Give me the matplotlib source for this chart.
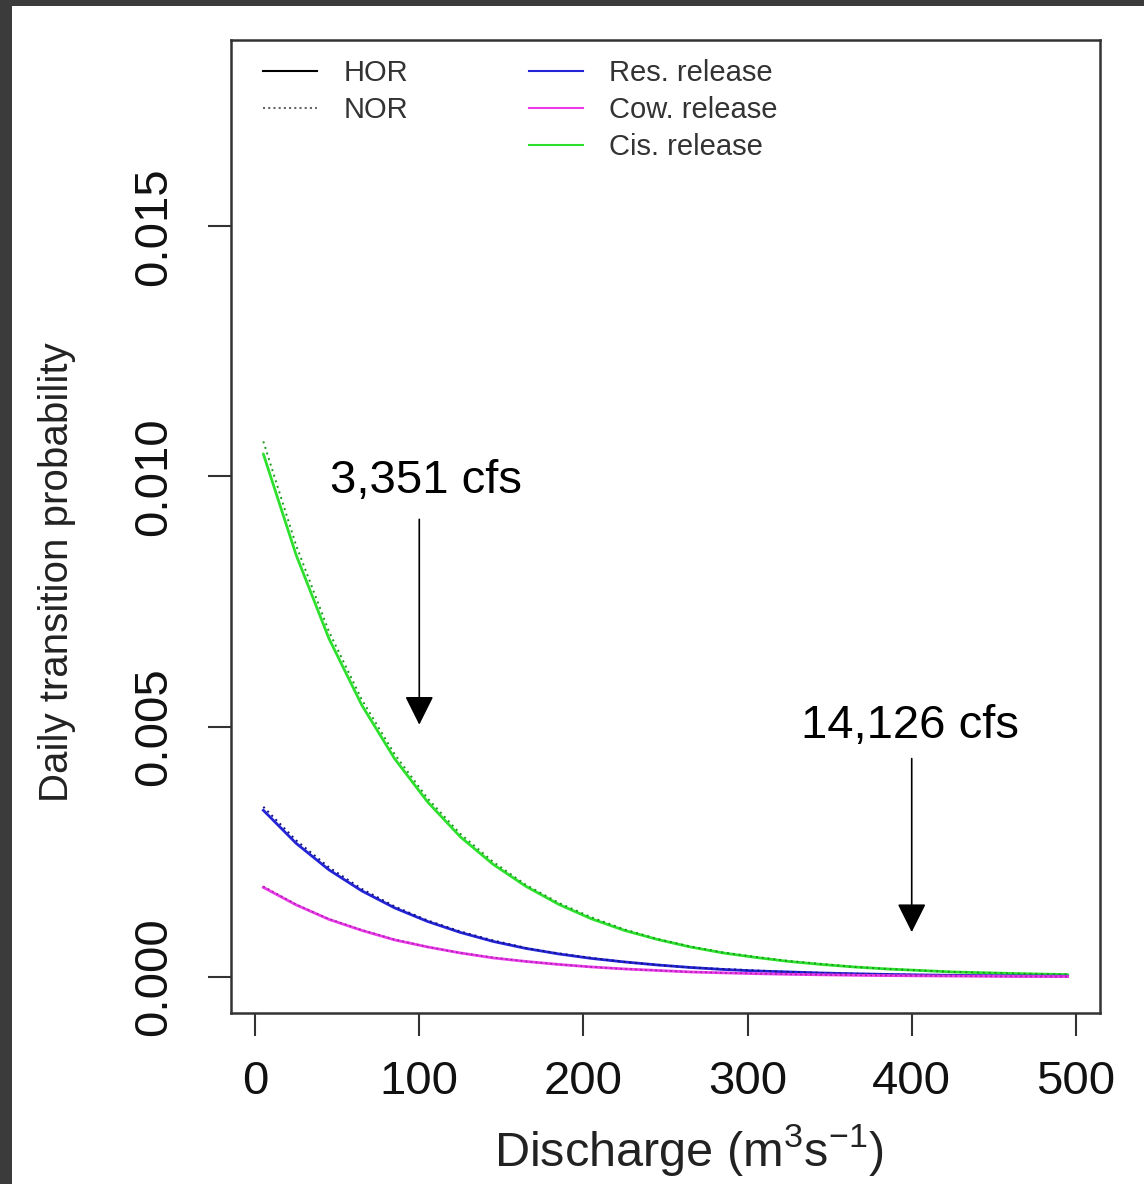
import matplotlib
matplotlib.use("Agg")
import matplotlib.pyplot as plt
from matplotlib.patches import Rectangle
from matplotlib.lines import Line2D

plt.rcParams['font.family'] = ['Liberation Sans', 'DejaVu Sans']
plt.rcParams['mathtext.fontset'] = 'custom'
plt.rcParams['mathtext.rm'] = 'Liberation Sans'
plt.rcParams['mathtext.it'] = 'Liberation Sans'

# Discharge (m3/s)
discharge = [5, 25, 45, 65, 85, 105, 125, 145, 165, 185, 205, 225, 245,
             265, 285, 305, 325, 345, 365, 385, 405, 425, 445, 465, 485, 495]

# Daily transition probability (x 1e-3)
cis_hor = [10.45, 8.43, 6.76, 5.43, 4.36, 3.50, 2.80, 2.25, 1.81, 1.45, 1.16, 0.93, 0.75,
           0.60, 0.48, 0.39, 0.31, 0.25, 0.20, 0.16, 0.13, 0.10, 0.083, 0.067, 0.054, 0.048]
cis_nor = [10.70, 8.62, 6.90, 5.54, 4.45, 3.57, 2.86, 2.30, 1.84, 1.48, 1.19, 0.95, 0.76,
           0.61, 0.49, 0.40, 0.32, 0.26, 0.20, 0.16, 0.13, 0.10, 0.085, 0.068, 0.055, 0.049]
res_hor = [3.33, 2.67, 2.14, 1.72, 1.38, 1.11, 0.89, 0.71, 0.57, 0.46, 0.37, 0.30, 0.24,
           0.19, 0.15, 0.12, 0.10, 0.079, 0.064, 0.051, 0.041, 0.033, 0.026, 0.021, 0.017, 0.015]
res_nor = [3.40, 2.73, 2.19, 1.76, 1.41, 1.13, 0.91, 0.73, 0.58, 0.47, 0.38, 0.30, 0.24,
           0.19, 0.16, 0.13, 0.10, 0.081, 0.065, 0.052, 0.042, 0.034, 0.027, 0.022, 0.017, 0.016]
cow_hor = [1.79, 1.44, 1.15, 0.93, 0.74, 0.60, 0.48, 0.38, 0.31, 0.25, 0.20, 0.16, 0.13,
           0.10, 0.082, 0.066, 0.053, 0.043, 0.034, 0.027, 0.022, 0.018, 0.014, 0.011, 0.009, 0.008]
cow_nor = [1.81, 1.45, 1.16, 0.94, 0.75, 0.60, 0.48, 0.39, 0.31, 0.25, 0.20, 0.16, 0.13,
           0.10, 0.083, 0.067, 0.054, 0.043, 0.035, 0.028, 0.022, 0.018, 0.014, 0.012, 0.009, 0.008]

x_ticks = [0, 100, 200, 300, 400, 500]
y_ticks = [0.000, 0.005, 0.010, 0.015]
y_ticklabels = ["0.000", "0.005", "0.010", "0.015"]

W, H = 1144, 1184
fig = plt.figure(figsize=(W / 100, H / 100), dpi=100)
fig.patch.set_facecolor('#3b3b3b')
fig.patches.append(Rectangle((12 / W, 0), 1 - 12 / W, (H - 6) / H,
                             transform=fig.transFigure, facecolor='white',
                             edgecolor='none', zorder=-10))

ax = fig.add_axes([231 / W, 1 - 1013 / H, (1100 - 231) / W, (1013 - 40) / H])
ax.set_zorder(1)
ax.set_facecolor('white')

def s(v):
    return [t * 1e-3 for t in v]

c_cis, c_res, c_cow = '#2ee02e', '#2323d8', '#ea3aea'
lw = 2.0
ax.plot(discharge, s(cis_hor), color=c_cis, lw=lw, solid_capstyle='round')
ax.plot(discharge, s(cis_nor), color='#1a9a1a', lw=1.4, ls=(0, (1, 2)))
ax.plot(discharge, s(res_hor), color=c_res, lw=lw)
ax.plot(discharge, s(res_nor), color='#141480', lw=1.4, ls=(0, (1, 2)))
ax.plot(discharge, s(cow_hor), color=c_cow, lw=lw)
ax.plot(discharge, s(cow_nor), color='#a020a0', lw=1.2, ls=(0, (1, 2)))

ax.set_xlim(-14.7, 514.7)
ax.set_ylim(-0.00072, 0.01872)
ax.set_xticks(x_ticks)
ax.set_xticklabels([str(v) for v in x_ticks])
ax.set_yticks(y_ticks)
ax.set_yticklabels(y_ticklabels, rotation=90, va='center')
for sp in ax.spines.values():
    sp.set_linewidth(1.8)
    sp.set_color('#333333')
ax.tick_params(axis='both', length=16.5, width=1.5, color='#333333',
               labelsize=34, labelcolor='#111111')
ax.tick_params(axis='x', pad=17)
ax.tick_params(axis='y', pad=23)

fig.text(57 / W, 1 - 572 / H, 'Daily transition probability', rotation=90,
         ha='center', va='center', fontsize=29, color='#222222')
fig.text(689 / W, 1 - 1150 / H, r'Discharge (m$^{3}$s$^{-1}$)',
         ha='center', va='center', fontsize=35, color='#222222')

# legends
h1 = [Line2D([], [], color='black', lw=1.5),
      Line2D([], [], color='#666666', lw=1.5, ls=(0, (1, 1.5)))]
leg1 = ax.legend(h1, ['HOR', 'NOR'], loc='upper left',
                 bbox_to_anchor=(0.007, 1.007), frameon=False, fontsize=21,
                 handlelength=1.85, handletextpad=0.9, labelspacing=0.3,
                 labelcolor='#333333')
ax.add_artist(leg1)
h2 = [Line2D([], [], color=c_res, lw=1.5),
      Line2D([], [], color=c_cow, lw=1.5),
      Line2D([], [], color=c_cis, lw=1.5)]
ax.legend(h2, ['Res. release', 'Cow. release', 'Cis. release'], loc='upper left',
          bbox_to_anchor=(0.313, 1.007), frameon=False, fontsize=21,
          handlelength=1.85, handletextpad=0.9, labelspacing=0.3,
          labelcolor='#333333')

# annotations
ax.text(103.9, 0.0099, '3,351 cfs', ha='center', va='center', fontsize=34)
ax.annotate('', xy=(100, 0.00504), xytext=(100, 0.009143),
            arrowprops=dict(arrowstyle='-|>,head_length=1.0,head_width=0.5',
                            mutation_scale=18, lw=1.2, color='black',
                            shrinkA=0, shrinkB=0))
ax.text(399, 0.00502, '14,126 cfs', ha='center', va='center', fontsize=34)
ax.annotate('', xy=(400, 0.000896), xytext=(400, 0.004363),
            arrowprops=dict(arrowstyle='-|>,head_length=1.0,head_width=0.5',
                            mutation_scale=18, lw=1.2, color='black',
                            shrinkA=0, shrinkB=0))

fig.savefig('out.png', dpi=100, facecolor=fig.get_facecolor())
